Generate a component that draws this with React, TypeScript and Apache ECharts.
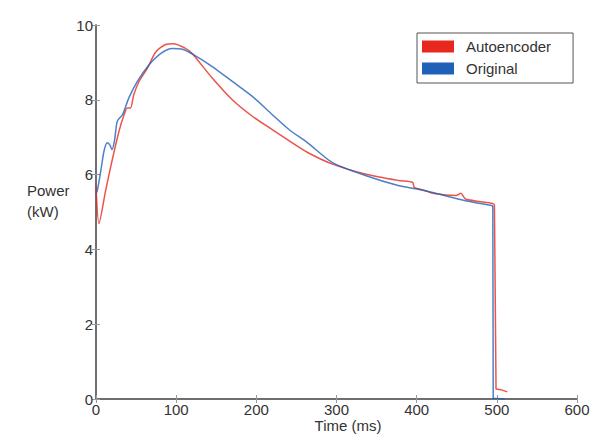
import React, { useEffect, useRef } from "react";
import * as echarts from "echarts";

const xTicks = [0, 100, 200, 300, 400, 500, 600];
const yTicks = [0, 2, 4, 6, 8, 10];

// Original (ms, kW): continuous part and the cut-off tail
const origT = [0, 1.6, 6, 10, 14, 17, 20, 23, 26.6, 33, 41, 51.6, 66, 81, 95, 108, 122, 145, 170, 195, 220, 241, 264, 295, 337, 378, 399, 420, 461, 495];
const origV = [5.5, 5.57, 6.1, 6.63, 6.85, 6.8, 6.67, 6.9, 7.43, 7.6, 8.05, 8.49, 8.93, 9.24, 9.37, 9.35, 9.2, 8.89, 8.49, 8.09, 7.6, 7.2, 6.85, 6.32, 5.97, 5.7, 5.62, 5.52, 5.3, 5.17];
const origTailT = [495, 495.5, 510];
const origTailV = [5.17, 0.02, 0.0];

// Autoencoder (ms, kW)
const aeT = [0, 3.7, 12, 20, 28.7, 35, 39, 43, 47, 53.7, 64, 74.5, 87, 97, 112, 120, 145, 170, 195, 220, 241, 264, 295, 337, 378, 395, 397, 411, 420, 449, 455, 461, 495, 497];
const aeV = [5.7, 4.69, 5.57, 6.37, 7.16, 7.6, 7.78, 7.78, 8.13, 8.49, 8.84, 9.28, 9.48, 9.5, 9.37, 9.24, 8.58, 8.0, 7.56, 7.2, 6.9, 6.59, 6.28, 6.01, 5.84, 5.79, 5.66, 5.57, 5.5, 5.44, 5.5, 5.35, 5.23, 5.2];
const aeTailT = [497, 499, 505, 513];
const aeTailV = [5.2, 0.27, 0.25, 0.19];

const RED = "#e8281e";
const BLUE = "#2060b8";
const FONT = "Liberation Sans, Arial, sans-serif";
const TXT = "#333";
const FS = 15;

export default function App() {
  const ref = useRef<HTMLDivElement>(null);
  useEffect(() => {
    if (!ref.current) return;
    const chart = echarts.init(ref.current, null, { renderer: "svg" });
    const axisCommon = {
      type: "value" as const,
      axisLine: { show: true, lineStyle: { color: "#666", width: 1.5 } },
      axisTick: { show: true, inside: true, length: 4, lineStyle: { color: "#999" } },
      splitLine: { show: false },
    };
    const mk = (name: string, ts: number[], vs: number[], color: string, smooth: number, z: number) => ({
      name,
      type: "line",
      showSymbol: false,
      symbol: "none",
      smooth,
      data: ts.map((t, i) => [t, vs[i]]),
      lineStyle: { color, width: 1.5, opacity: 0.8 },
      itemStyle: { color },
      z,
    });
    chart.setOption({
      animation: false,
      grid: { left: 96, right: 16, top: 25, bottom: 35 },
      legend: {
        left: 417,
        top: 33,
        orient: "vertical",
        icon: "rect",
        itemWidth: 32,
        itemHeight: 12,
        itemGap: 7,
        borderColor: "#555",
        borderWidth: 1,
        borderRadius: 0,
        padding: [6, 22, 7, 5],
        textStyle: { fontFamily: FONT, fontSize: FS, color: TXT, padding: [0, 0, 0, 7] },
        data: ["Autoencoder", "Original"],
      },
      xAxis: [
        {
          ...axisCommon,
          position: "bottom",
          min: 0,
          max: 600,
          interval: 100,
          axisLabel: { fontFamily: FONT, fontSize: FS, color: TXT, margin: 3, formatter: (v: number) => (xTicks.includes(v) ? String(v) : "") },
        },
        { ...axisCommon, position: "top", min: 0, max: 600, interval: 100, axisLabel: { show: false } },
      ],
      yAxis: [
        {
          ...axisCommon,
          position: "left",
          min: 0,
          max: 10,
          interval: 2,
          axisLabel: { fontFamily: FONT, fontSize: FS, color: TXT, margin: 3, formatter: (v: number) => (yTicks.includes(v) ? String(v) : "") },
        },
        { ...axisCommon, position: "right", min: 0, max: 10, interval: 2, axisLabel: { show: false } },
      ],
      graphic: [
        {
          type: "text",
          left: 27,
          top: 180,
          style: { text: "Power\n(kW)", fontFamily: FONT, fontSize: FS, fill: TXT, lineHeight: 21 },
        },
        {
          type: "text",
          x: 348,
          y: 425,
          style: { text: "Time (ms)", fontFamily: FONT, fontSize: FS, fill: TXT, align: "center", verticalAlign: "middle" },
        },
      ],
      series: [
        mk("Autoencoder", aeT, aeV, RED, 0.25, 2),
        mk("Autoencoder", aeTailT, aeTailV, RED, 0, 2),
        mk("Original", origT, origV, BLUE, 0.25, 3),
        mk("Original", origTailT, origTailV, BLUE, 0, 3),
      ],
    });
    return () => chart.dispose();
  }, []);
  return <div ref={ref} style={{ width: 593, height: 434, position: "absolute", left: 0, top: 0 }} />;
}
